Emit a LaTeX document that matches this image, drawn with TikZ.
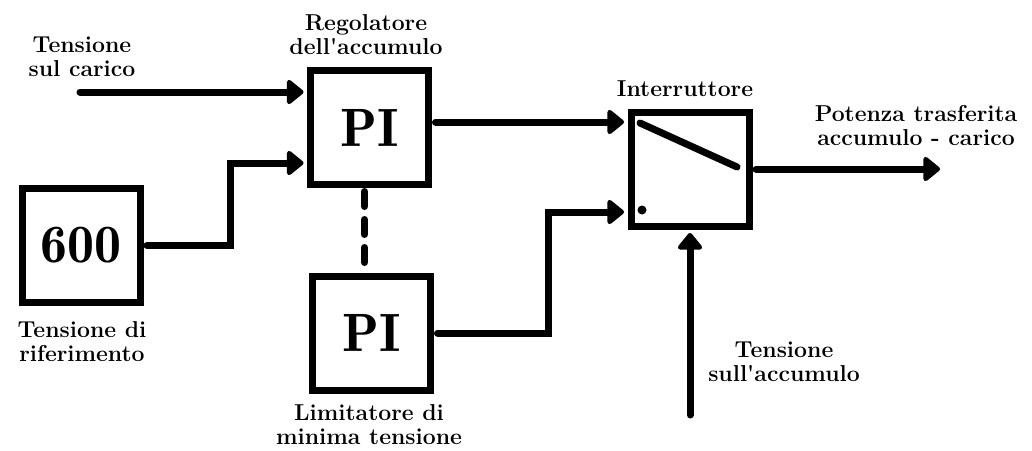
\documentclass[tikz,border=0pt]{standalone}
\usetikzlibrary{arrows.meta}
\begin{document}
\begin{tikzpicture}[x=1pt,y=-1pt,
  blk/.style={draw,line width=7pt,minimum width=118pt,minimum height=114pt,
    inner sep=0pt,outer sep=7pt,font=\fontseries{b}\fontsize{54}{54}\selectfont},
  lbl/.style={font=\bfseries\fontsize{23}{24}\selectfont,align=center,inner sep=0pt},
  wire/.style={line width=7pt,line cap=round},
  arr/.style={wire,-{Triangle[length=18pt,width=28pt,round]}}
]
\useasboundingbox (0,0) rectangle (1032,450);

% blocks
\node[blk] (pi1) at (369.5,127.5) {PI};
\node[blk] (pi2) at (371.5,333) {PI};
\node[blk] (ref) at (81,245.5) {600};
\node[blk] (sw)  at (690,169) {};

% switch symbol inside the block
\draw[wire] (640,123) -- (737,167);
\fill (642,210) circle (4.5pt);

% free ends and bends
\coordinate (vc) at (80,92);
\coordinate (j1) at (230,163);
\coordinate (h1) at (0,122);
\coordinate (j2) at (548,212);
\coordinate (out) at (940,169);
\coordinate (va) at (690,415);

% connectors
\draw[arr] (vc) -- (vc -| pi1.west);
\draw[arr] (ref.east) -| (j1) -- (j1 -| pi1.west);
\draw[wire,dash pattern=on 15pt off 13pt] ([xshift=-5pt]pi1.south) -- ([xshift=-7pt]pi2.north);
\draw[arr] (pi1.east |- h1) -- (sw.west |- h1);
\draw[arr] (pi2.east) -| (j2) -- (j2 -| sw.west);
\draw[arr] (sw.east) -- (out);
\draw[arr] (va) -- (sw.south);

% labels
\node[lbl] (t1) at (82,57) {Tensione\\sul carico};
\node[lbl] (t2) at (366,35) {Regolatore\\dell\textquotesingle accumulo};
\node[lbl] (t3) at (82,342) {Tensione di\\riferimento};
\node[lbl] (t4) at (369,425) {Limitatore di\\minima tensione};
\node[lbl] (t5) at (685,89) {Interruttore};
\node[lbl] (t6) at (916,126) {Potenza trasferita\\accumulo - carico};
\node[lbl] (t7) at (784,362) {Tensione\\sull\textquotesingle accumulo};
\end{tikzpicture}
\end{document}
